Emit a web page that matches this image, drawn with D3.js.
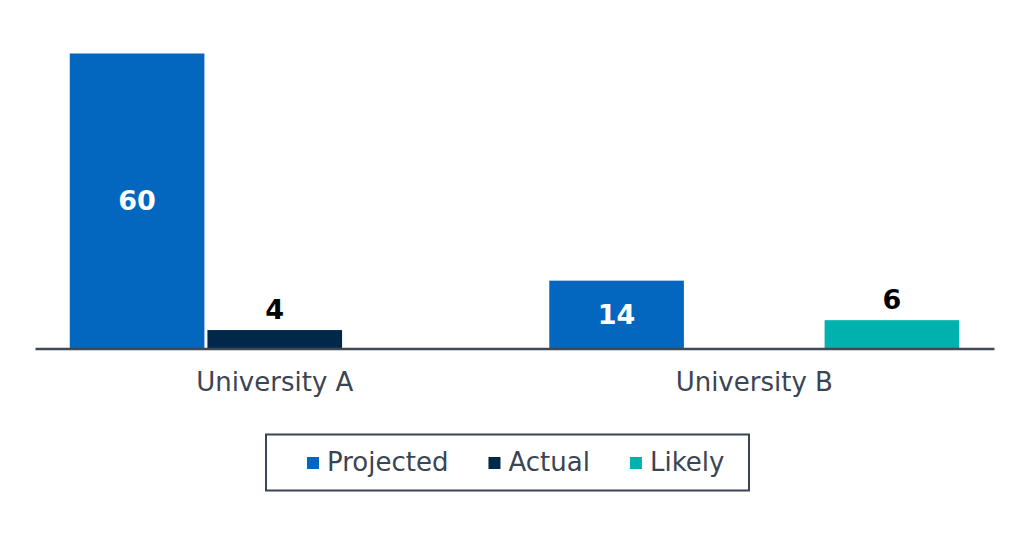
<!DOCTYPE html>
<html>
<head>
<meta charset="utf-8">
<script src="https://cdn.jsdelivr.net/npm/d3@7"></script>
<style>
	body { margin: 0; background: #fff; }
	svg { display: block; font-family: "DejaVu Sans", Verdana, sans-serif; }
</style>
</head>
<body>
<div id="chart"></div>
<script>
// chart data
const categories = ["University A", "University B"];
const seriesNames = ["Projected", "Actual", "Likely"];
const projected = [60, 14];
const actual = [4, null];
const likely = [null, 6];
const seriesColors = ["#0467bf", "#00284a", "#00b1ae"];
// labels drawn inside the bar (white) or above it (black)
const labelInside = [true, false, false];

const width = 1024,
	height = 539;

const values = [projected, actual, likely];
const rows = [];
categories.forEach((c, i) => {
	seriesNames.forEach((s, j) => {
		rows.push({ category: c, series: s, index: j, value: values[j][i] });
	});
});

const svg = d3
	.select("#chart")
	.append("svg")
	.attr("width", width)
	.attr("height", height);

var x0 = d3
	.scaleBand()
	.domain(categories)
	.range([35, 994])
	.paddingInner(0.145)
	.paddingOuter(0.0725);

var x1 = d3
	.scaleBand()
	.domain(seriesNames)
	.range([0, x0.bandwidth()])
	.paddingInner(0.022);

var y = d3.scaleLinear().domain([0, 60]).range([349.8, 53.5]);

const color = d3.scaleOrdinal().domain(seriesNames).range(seriesColors);

const bars = rows.filter((d) => d.value != null);

svg
	.append("g")
	.selectAll("rect")
	.data(bars)
	.join("rect")
	.attr("x", (d) => x0(d.category) + x1(d.series))
	.attr("y", (d) => y(d.value))
	.attr("width", x1.bandwidth())
	.attr("height", (d) => y(0) - y(d.value))
	.attr("fill", (d) => color(d.series));

// value labels
svg
	.append("g")
	.selectAll("text")
	.data(bars)
	.join("text")
	.attr("x", (d) => x0(d.category) + x1(d.series) + x1.bandwidth() / 2)
	.attr("y", (d) =>
		labelInside[d.index] ? (y(d.value) + y(0) - 2) / 2 : y(d.value) - 11
	)
	.attr("dy", (d) => (labelInside[d.index] ? "0.36em" : null))
	.attr("text-anchor", "middle")
	.attr("font-weight", "bold")
	.attr("font-size", "27px")
	.attr("fill", (d) => (labelInside[d.index] ? "#ffffff" : "#000000"))
	.text((d) => d.value);

// baseline axis
const xAxis = svg
	.append("g")
	.attr("transform", `translate(0,${y(0) - 1.3})`)
	.call(d3.axisBottom(x0).tickSize(0).tickPadding(24));

xAxis.select(".domain").attr("stroke", "#404852").attr("stroke-width", 2.4);
xAxis
	.selectAll(".tick text")
	.attr("font-family", "DejaVu Sans, Verdana, sans-serif")
	.attr("font-size", "26px")
	.attr("fill", "#3b4452");

// legend
const legend = svg.append("g");
legend
	.append("rect")
	.attr("x", 266)
	.attr("y", 434.5)
	.attr("width", 483)
	.attr("height", 56)
	.attr("fill", "none")
	.attr("stroke", "#3b4452")
	.attr("stroke-width", 2);

let lx = 307;
seriesNames.forEach((s) => {
	const item = legend.append("g").attr("transform", `translate(${lx},0)`);
	item
		.append("rect")
		.attr("x", 0)
		.attr("y", 457)
		.attr("width", 12)
		.attr("height", 12)
		.attr("fill", color(s));
	const t = item
		.append("text")
		.attr("x", 20)
		.attr("y", 471)
		.attr("font-size", "26px")
		.attr("fill", "#3b4452")
		.text(s);
	lx += 20 + t.node().getComputedTextLength() + 40;
});
</script>
</body>
</html>
